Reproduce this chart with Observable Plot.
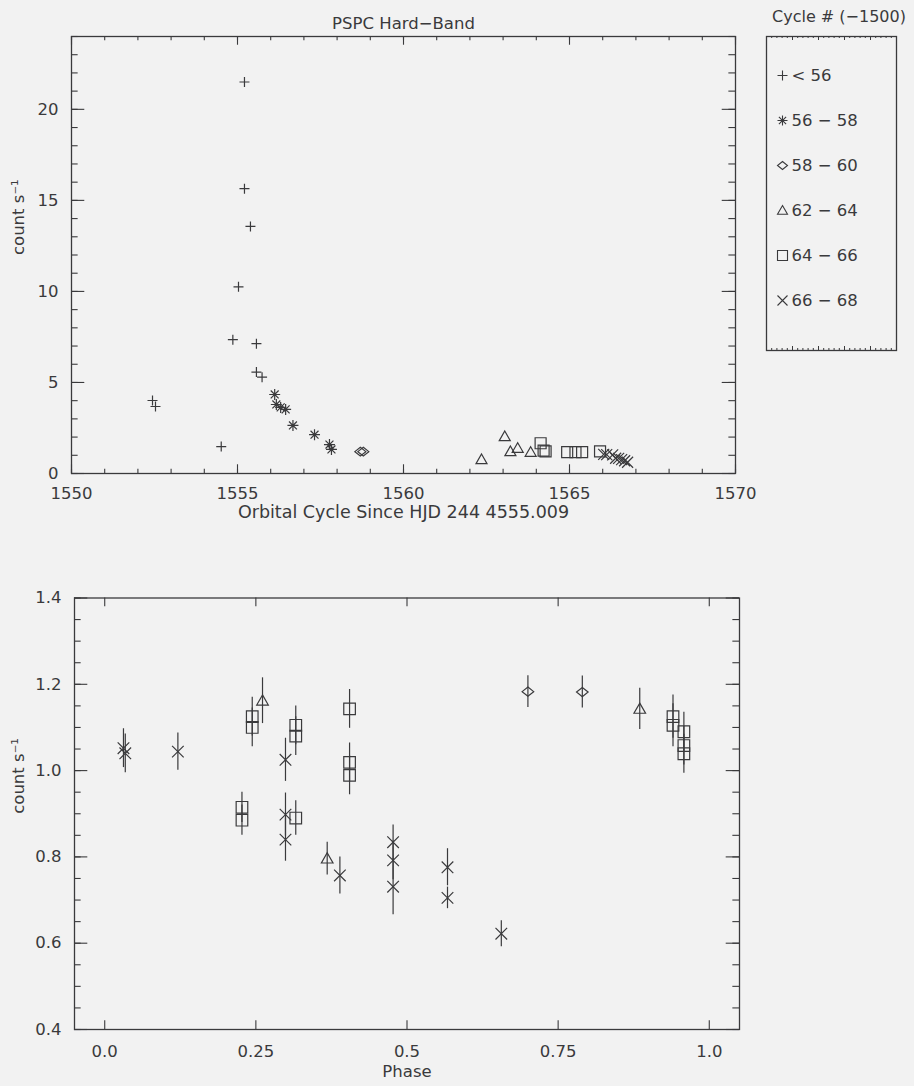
<!DOCTYPE html>
<html>
<head>
<meta charset="utf-8">
<script src="https://cdn.jsdelivr.net/npm/d3@7"></script>
<script src="https://cdn.jsdelivr.net/npm/@observablehq/plot@0.6"></script>
<style>
  html, body { margin: 0; padding: 0; background: #f2f2f2; }
  #page { position: relative; width: 914px; height: 1086px; background: #f2f2f2; overflow: hidden;
          font-family: "DejaVu Sans", sans-serif; color: #3a3a3c; }
  #page > svg, #page > div { position: absolute; }
  .legend-title { font-size: 16px; white-space: nowrap; }
</style>
</head>
<body>
<div id="page"></div>
<script>
// ---- cycle groups (cycle number minus 1500) ----
const groups = ["< 56", "56 − 58", "58 − 60", "62 − 64", "64 − 66", "66 − 68"];

// ---- upper panel: count rate against orbital cycle ----
const cyclePlus = [1552.44, 1552.53, 1554.51, 1554.86, 1555.03, 1555.21, 1555.21, 1555.39, 1555.57, 1555.57, 1555.74];
const ratePlus  = [4.01, 3.68, 1.48, 7.35, 10.25, 21.5, 15.64, 13.57, 7.13, 5.57, 5.29];
const cycleAst  = [1556.12, 1556.17, 1556.30, 1556.45, 1556.67, 1557.32, 1557.77, 1557.83];
const rateAst   = [4.34, 3.79, 3.63, 3.52, 2.64, 2.13, 1.59, 1.32];
const cycleDia  = [1558.70, 1558.79];
const rateDia   = [1.20, 1.20];
const cycleTri  = [1562.35, 1563.05, 1563.22, 1563.44, 1563.83];
const rateTri   = [0.77, 2.03, 1.21, 1.39, 1.17];
const cycleSq   = [1564.13, 1564.22, 1564.28, 1564.93, 1565.18, 1565.38, 1565.92];
const rateSq    = [1.66, 1.26, 1.22, 1.17, 1.17, 1.17, 1.22];
const cycleX    = [1566.03, 1566.12, 1566.30, 1566.39, 1566.48, 1566.57, 1566.66, 1566.75];
const rateX     = [1.05, 1.04, 1.02, 0.84, 0.83, 0.76, 0.70, 0.62];

// ---- lower panel: count rate (with 1-sigma errors) against orbital phase ----
const phaseDia = [0.700, 0.790];
const rDia     = [1.183, 1.182];
const eDia     = [0.037, 0.037];
const phaseTri = [0.261, 0.368, 0.885];
const rTri     = [1.162, 0.796, 1.143];
const eTri     = [0.053, 0.038, 0.048];
const phaseSq  = [0.227, 0.227, 0.244, 0.244, 0.316, 0.316, 0.316, 0.405, 0.405, 0.405, 0.940, 0.940, 0.958, 0.958, 0.958];
const rSq      = [0.915, 0.885, 1.125, 1.100, 1.105, 1.080, 0.890, 1.143, 1.019, 0.989, 1.125, 1.105, 1.090, 1.058, 1.039];
const eSq      = [0.035, 0.035, 0.045, 0.045, 0.045, 0.045, 0.040, 0.045, 0.045, 0.045, 0.050, 0.050, 0.045, 0.045, 0.045];
const phaseX   = [0.031, 0.034, 0.121, 0.299, 0.299, 0.299, 0.389, 0.477, 0.477, 0.477, 0.567, 0.567, 0.656];
const rX       = [1.052, 1.040, 1.044, 1.025, 0.898, 0.840, 0.757, 0.834, 0.792, 0.731, 0.776, 0.705, 0.622];
const eX       = [0.045, 0.045, 0.043, 0.050, 0.050, 0.050, 0.043, 0.040, 0.045, 0.065, 0.043, 0.025, 0.030];

// ---- axis ticks and labels ----
const topXTicks = [1550, 1555, 1560, 1565, 1570];
const topYTicks = [0, 5, 10, 15, 20];
const botXTicks = [0, 0.25, 0.5, 0.75, 1];
const botXLabels = ["0.0", "0.25", "0.5", "0.75", "1.0"];
const botYTicks = [0.4, 0.6, 0.8, 1.0, 1.2, 1.4];
const botYLabels = ["0.4", "0.6", "0.8", "1.0", "1.2", "1.4"];

const title = "PSPC Hard−Band";
const legendTitle = "Cycle # (−1500)";
const topXTitle = "Orbital Cycle Since HJD 244 4555.009";
const botXTitle = "Phase";
const yTitle = "count s⁻¹";

const ink = "#3a3a3c";
const font = "DejaVu Sans, sans-serif";

// ---- plotting symbols in the style of classic PSYM codes ----
const rad = s => Math.sqrt(s / Math.PI);
const symPlus = {draw(c, s) { const r = rad(s); c.moveTo(-r, 0); c.lineTo(r, 0); c.moveTo(0, -r); c.lineTo(0, r); }};
const symAst = {draw(c, s) { const r = rad(s), d = r * 0.72;
  c.moveTo(-r, 0); c.lineTo(r, 0); c.moveTo(0, -r); c.lineTo(0, r);
  c.moveTo(-d, -d); c.lineTo(d, d); c.moveTo(-d, d); c.lineTo(d, -d); }};
const symDia = {draw(c, s) { const r = rad(s), h = r * 0.8;
  c.moveTo(0, -h); c.lineTo(r, 0); c.lineTo(0, h); c.lineTo(-r, 0); c.closePath(); }};
const symTri = {draw(c, s) { const r = rad(s);
  c.moveTo(0, -r); c.lineTo(r, r * 0.75); c.lineTo(-r, r * 0.75); c.closePath(); }};
const symSq = {draw(c, s) { const r = rad(s); c.rect(-r, -r, 2 * r, 2 * r); }};
const symX = {draw(c, s) { const r = rad(s);
  c.moveTo(-r, -r); c.lineTo(r, r); c.moveTo(-r, r); c.lineTo(r, -r); }};
const groupSymbols = [symPlus, symAst, symDia, symTri, symSq, symX];

const rows = (xs, ys, es) => xs.map((x, i) => ({x, y: ys[i], e: es ? es[i] : 0}));

const topSets = [
  rows(cyclePlus, ratePlus), rows(cycleAst, rateAst), rows(cycleDia, rateDia),
  rows(cycleTri, rateTri), rows(cycleSq, rateSq), rows(cycleX, rateX)
];
const botSets = [
  [symDia, rows(phaseDia, rDia, eDia)], [symTri, rows(phaseTri, rTri, eTri)],
  [symSq, rows(phaseSq, rSq, eSq)], [symX, rows(phaseX, rX, eX)]
];

// Inward-pointing tick marks on all four sides of a frame
function frameTicks(xMajor, xMinor, yMajor, yMinor, innerW, innerH) {
  const xl = 0.02 * innerH, yl = 0.02 * innerW;
  const st = {stroke: ink, strokeWidth: 1.1};
  const m = [];
  for (const [arr, len] of [[xMajor, xl], [xMinor, xl / 2]]) {
    m.push(Plot.tickX(arr, {x: d => d, insetTop: innerH - len, ...st}));
    m.push(Plot.tickX(arr, {x: d => d, insetBottom: innerH - len, ...st}));
  }
  for (const [arr, len] of [[yMajor, yl], [yMinor, yl / 2]]) {
    m.push(Plot.tickY(arr, {y: d => d, insetRight: innerW - len, ...st}));
    m.push(Plot.tickY(arr, {y: d => d, insetLeft: innerW - len, ...st}));
  }
  return m;
}

const page = document.getElementById("page");
const baseStyle = {fontFamily: font, fontSize: "16.5px", color: ink, background: "transparent", overflow: "visible"};

// ---------- upper panel ----------
{
  const W = 760, H = 540, ml = 71, mr = 25, mt = 36, mb = 67;
  const iw = W - ml - mr, ih = H - mt - mb;
  const marks = [
    ...frameTicks(topXTicks, d3.range(1550, 1571, 1), topYTicks, d3.range(0, 25, 1), iw, ih),
    Plot.frame({stroke: ink, strokeWidth: 1.3}),
    Plot.axisX(topXTicks, {tickSize: 0, tickPadding: 14, tickFormat: d => String(d), label: null, fill: ink}),
    Plot.axisY(topYTicks, {tickSize: 0, tickPadding: 13, tickFormat: d => String(d), label: null, fill: ink}),
    ...topSets.map((set, i) => Plot.dot(set, {x: "x", y: "y", symbol: groupSymbols[i], r: i === 0 ? 5 : 5.5,
      fill: "none", stroke: ink, strokeWidth: 1.2})),
    Plot.text([title], {frameAnchor: "top", dy: -19, fontSize: 16.5, fill: ink}),
    Plot.text([topXTitle], {frameAnchor: "bottom", dy: 44, fontSize: 17.5, fill: ink}),
    Plot.text([yTitle], {frameAnchor: "left", dx: -53, rotate: -90, fill: ink})
  ];
  const svg = Plot.plot({
    width: W, height: H, marginLeft: ml, marginRight: mr, marginTop: mt, marginBottom: mb,
    x: {domain: [1550, 1570]}, y: {domain: [0, 24]},
    style: baseStyle, marks
  });
  svg.style.left = "0px"; svg.style.top = "0px";
  page.appendChild(svg);
}

// ---------- legend box ----------
{
  const W = 130, H = 314;
  const legTicks = d3.range(0, 1.0001, 0.04);
  const legMajor = d3.range(0, 1.0001, 0.2);
  const marks = [
    Plot.tickX(legTicks, {x: d => d, insetTop: H - 2, stroke: ink}),
    Plot.tickX(legTicks, {x: d => d, insetBottom: H - 2, stroke: ink}),
    Plot.tickX(legMajor, {x: d => d, insetTop: H - 4, stroke: ink}),
    Plot.tickX(legMajor, {x: d => d, insetBottom: H - 4, stroke: ink}),
    Plot.frame({stroke: ink, strokeWidth: 1.3}),
    ...groups.map((g, i) => Plot.dot([g], {y: d => d, frameAnchor: "left", dx: 16, symbol: groupSymbols[i],
      r: 5, fill: "none", stroke: ink, strokeWidth: 1.1})),
    Plot.text(groups, {y: d => d, text: d => d, frameAnchor: "left", dx: 25, textAnchor: "start", fill: ink})
  ];
  const svg = Plot.plot({
    width: W, height: H, margin: 0,
    x: {domain: [0, 1], axis: null},
    y: {type: "point", domain: groups, range: [39, 264], padding: 0, axis: null},
    style: baseStyle, marks
  });
  svg.style.left = "766px"; svg.style.top = "36px";
  page.appendChild(svg);

  const lt = document.createElement("div");
  lt.className = "legend-title";
  lt.textContent = legendTitle;
  lt.style.left = "772px"; lt.style.top = "7px";
  page.appendChild(lt);
}

// ---------- lower panel: folded light curve ----------
{
  const W = 760, H = 546, ml = 74, mr = 21, mt = 57.5, mb = 57;
  const iw = W - ml - mr, ih = H - mt - mb;
  const marks = [
    ...frameTicks(botXTicks, [], botYTicks, d3.range(0.4, 1.4001, 0.05), iw, ih),
    Plot.frame({stroke: ink, strokeWidth: 1.3}),
    Plot.axisX(botXTicks, {tickSize: 0, tickPadding: 16, tickFormat: d => botXLabels[botXTicks.indexOf(d)], label: null, fill: ink}),
    Plot.axisY(botYTicks, {tickSize: 0, tickPadding: 13, tickFormat: d => botYLabels[botYTicks.indexOf(d)], label: null, fill: ink}),
    ...botSets.map(([, set]) => Plot.ruleX(set, {x: "x", y1: d => d.y - d.e, y2: d => d.y + d.e, stroke: ink, strokeWidth: 1.2})),
    ...botSets.map(([sym, set]) => Plot.dot(set, {x: "x", y: "y", symbol: sym, r: 5.8,
      fill: "none", stroke: ink, strokeWidth: 1.2})),
    Plot.text([botXTitle], {frameAnchor: "bottom", dy: 47, fill: ink}),
    Plot.text([yTitle], {frameAnchor: "left", dx: -56, rotate: -90, fill: ink})
  ];
  const svg = Plot.plot({
    width: W, height: H, marginLeft: ml, marginRight: mr, marginTop: mt, marginBottom: mb,
    x: {domain: [-0.05, 1.05]}, y: {domain: [0.4, 1.4]},
    style: baseStyle, marks
  });
  svg.style.left = "0px"; svg.style.top = "540px";
  page.appendChild(svg);
}
</script>
</body>
</html>
